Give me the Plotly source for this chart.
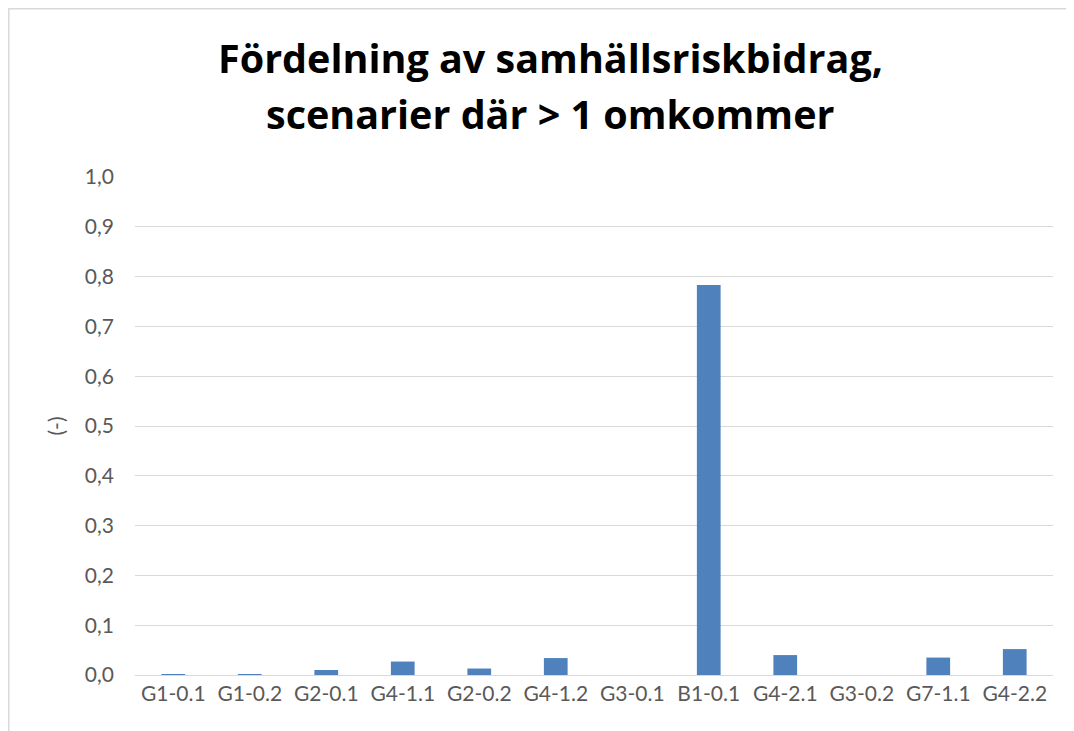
import plotly.graph_objects as go

categories = ["G1-0.1", "G1-0.2", "G2-0.1", "G4-1.1", "G2-0.2", "G4-1.2",
              "G3-0.1", "B1-0.1", "G4-2.1", "G3-0.2", "G7-1.1", "G4-2.2"]
values = [0.001, 0.002, 0.010, 0.027, 0.013, 0.034,
          0.0, 0.783, 0.040, 0.0, 0.035, 0.052]
y_ticks = [0.0, 0.1, 0.2, 0.3, 0.4, 0.5, 0.6, 0.7, 0.8, 0.9, 1.0]
y_tick_labels = ["0,0", "0,1", "0,2", "0,3", "0,4", "0,5", "0,6", "0,7", "0,8", "0,9", "1,0"]
title_lines = ["Fördelning av samhällsriskbidrag,", "scenarier där > 1 omkommer"]

# page body has an 8px margin, compensate
OFF = 8
W, H = 1074 - OFF, 731 - OFF
ml, mr, mt, mb = 135 - OFF, 21, 177 - OFF, 56
pw, ph = W - ml - mr, H - mt - mb

def py(fig_px):
    """figure pixel (from top) -> paper y"""
    return (H - mb - fig_px) / ph

def px(fig_px):
    return (fig_px - ml) / pw

fig = go.Figure(go.Bar(x=categories, y=values, marker_color="#4f81bd",
                       marker_line_width=0))

title_font = dict(family="Open Sans, sans-serif", size=39.5, color="black")
fig.update_layout(
    width=W, height=H,
    margin=dict(l=ml, r=mr, t=mt, b=mb),
    paper_bgcolor="white", plot_bgcolor="white",
    bargap=0.69,
    showlegend=False,
    font=dict(family="Lato, Carlito, sans-serif", color="#595959"),
)
for i, (line, ymid) in enumerate(zip(title_lines, [50, 106])):
    fig.add_annotation(text="<b>" + line + "</b>", xref="paper", yref="paper",
                       x=px(550 - OFF), y=py(ymid), xanchor="center", yanchor="middle",
                       showarrow=False, font=title_font)

fig.update_xaxes(showgrid=False, showline=False, ticks="", ticklabelstandoff=4,
                 tickfont=dict(size=21, color="#595959"))
fig.update_yaxes(range=[0, 1.0], tickvals=y_ticks, ticktext=y_tick_labels,
                 showgrid=True, gridcolor="#d9d9d9", gridwidth=1.3,
                 zeroline=True, zerolinecolor="#d9d9d9", zerolinewidth=1.3,
                 ticks="", ticklabelstandoff=20, tickfont=dict(size=21, color="#595959"),
                 title=dict(text="(-)", font=dict(size=21, color="#595959"), standoff=14))

# outer chart border (top and left visible, right/bottom run off the page)
fig.add_shape(type="rect", xref="paper", yref="paper",
              x0=px(0.8), x1=px(W + 20),
              y0=py(H + 20), y1=py(0.8),
              line=dict(color="#d9d9d9", width=1.5), fillcolor="rgba(0,0,0,0)", layer="below")

fig.write_html("out.html")
